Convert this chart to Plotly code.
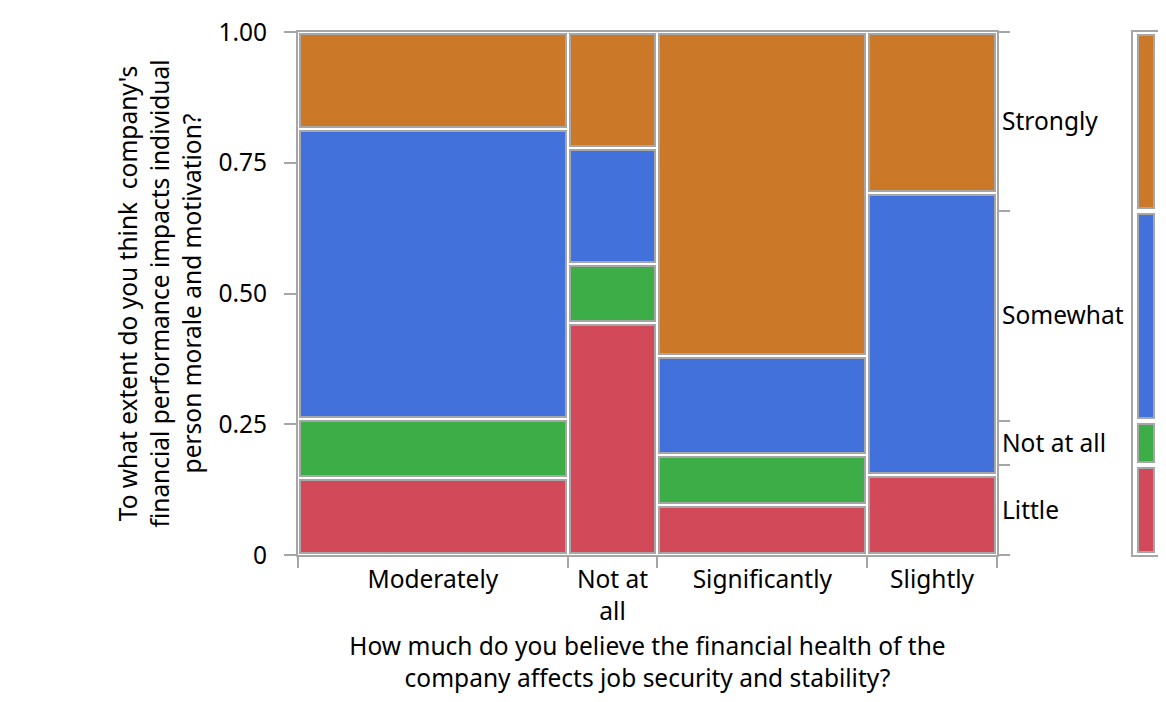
import plotly.graph_objects as go

# ---- data ----
x_categories = ["Moderately", "Not at all", "Significantly", "Slightly"]
x_ticklabels = ["Moderately", "Not at<br>all", "Significantly", "Slightly"]
y_categories = ["Little", "Not at all", "Somewhat", "Strongly"]  # bottom -> top
counts = {
    "Little":     [4, 4, 2, 2],
    "Not at all": [3, 1, 2, 0],
    "Somewhat":   [15, 2, 4, 7],
    "Strongly":   [5, 2, 13, 4],
}
colors = {
    "Little": "#D24A5A",
    "Not at all": "#3DAE47",
    "Somewhat": "#4371DC",
    "Strongly": "#CB7829",
}
y_ticks_left = [0, 0.25, 0.5, 0.75, 1.0]
y_ticktext_left = ["0", "0.25", "0.50", "0.75", "1.00"]
x_title = "How much do you believe the financial health of the<br>company affects job security and stability?"
y_title = "To what extent do you think \u00a0company's<br>financial performance impacts individual<br>person morale and motivation?"

# ---- layout geometry (page body has an 8px margin) ----
OFF = 8
W, H = 1166 - 2 * OFF, 702 - 2 * OFF
ml, mr, mt = 298 - OFF, 0, 32 - OFF
mb = H - mt - 523
plot_w = W - ml - mr
main_px = 699
dom_main = main_px / plot_w
dom_leg0 = (1133 - 298) / plot_w
plot_h = H - mt - mb

FONT = "Noto Sans, Open Sans, sans-serif"
GRAY = "#a6a6a6"
FS = 24.5

# ---- derived mosaic geometry ----
col_tot = [sum(counts[c][i] for c in y_categories) for i in range(len(x_categories))]
N = sum(col_tot)
col_w = [t / N for t in col_tot]
col_left = []
acc = 0
for w in col_w:
    col_left.append(acc)
    acc += w
col_center = [l + w / 2 for l, w in zip(col_left, col_w)]
col_bounds = col_left + [1.0]

padx = 2.0 / main_px
pady = 2.0 / plot_h

fig = go.Figure()

for i, xc in enumerate(x_categories):
    base = 0.0
    for yc in y_categories:
        h = counts[yc][i] / col_tot[i]
        if h > 0:
            fig.add_trace(go.Bar(
                x=[col_center[i]], y=[h - 2 * pady], base=[base + pady],
                width=[col_w[i] - 2 * padx],
                marker=dict(color=colors[yc], line=dict(color=GRAY, width=2)),
                xaxis="x", yaxis="y", showlegend=False,
                name=yc, hovertemplate=f"{xc} / {yc}: {counts[yc][i]}<extra></extra>",
            ))
        base += h

# marginal distribution
marg = [sum(counts[c]) / N for c in y_categories]
marg_bounds = [0]
for m in marg:
    marg_bounds.append(marg_bounds[-1] + m)
marg_mid = [(marg_bounds[k] + marg_bounds[k + 1]) / 2 for k in range(len(marg))]

leg_pady = 3.0 / plot_h
for k, yc in enumerate(y_categories):
    fig.add_trace(go.Bar(
        x=[0.52], y=[marg[k] - 2 * leg_pady], base=[marg_bounds[k] + leg_pady],
        width=[0.62],
        marker=dict(color=colors[yc], line=dict(color=GRAY, width=2)),
        xaxis="x2", yaxis="y5", showlegend=False, name=yc,
        hovertemplate=f"{yc}: {sum(counts[yc])}<extra></extra>",
    ))

axis_font = dict(family=FONT, size=FS, color="black")

fig.update_layout(
    width=W, height=H,
    margin=dict(l=ml, r=mr, t=mt, b=mb, autoexpand=False),
    paper_bgcolor="white", plot_bgcolor="rgba(0,0,0,0)",
    barmode="overlay", bargap=0,
    font=axis_font,
    xaxis=dict(
        domain=[0, dom_main], range=[0, 1], showgrid=False, zeroline=False,
        tickvals=col_center, ticktext=x_ticklabels, ticks="outside", ticklen=2,
        tickcolor="rgba(0,0,0,0)", showline=True, linecolor=GRAY, linewidth=2,
        mirror=True, tickfont=axis_font,
        title=dict(text=x_title, font=axis_font, standoff=12),
    ),
    xaxis3=dict(
        domain=[0, dom_main], range=[0, 1], overlaying="x", anchor="y",
        showgrid=False, zeroline=False, tickvals=col_bounds, ticks="outside",
        ticklen=12, tickwidth=2, tickcolor=GRAY, showticklabels=False,
        showline=False,
    ),
    yaxis=dict(
        range=[0, 1], showgrid=False, zeroline=False, tickvals=y_ticks_left,
        ticktext=y_ticktext_left, ticks="outside", ticklen=12, tickwidth=2,
        tickcolor=GRAY, showline=True, linecolor=GRAY, linewidth=2, mirror=True,
        tickfont=axis_font, anchor="x", ticklabelstandoff=12,
        title=dict(text=y_title, font=axis_font, standoff=10),
    ),
    yaxis2=dict(
        range=[0, 1], overlaying="y", side="right", anchor="x", showgrid=False,
        zeroline=False, tickvals=marg_bounds, ticks="outside", ticklen=12,
        tickwidth=2, tickcolor=GRAY, showticklabels=False, showline=False,
    ),
    yaxis4=dict(
        range=[0, 1], overlaying="y", side="right", anchor="x", showgrid=False,
        zeroline=False, tickvals=marg_mid, ticktext=y_categories, ticks="",
        showline=False, tickfont=axis_font, ticklabelstandoff=4,
    ),
    xaxis2=dict(
        domain=[dom_leg0, 1], range=[0, 1], anchor="y5", showgrid=False,
        zeroline=False, showticklabels=False, ticks="", showline=True,
        linecolor=GRAY, linewidth=2, mirror=True,
    ),
    yaxis5=dict(
        range=[0, 1], anchor="x2", showgrid=False, zeroline=False,
        showticklabels=False, ticks="", showline=True, linecolor=GRAY,
        linewidth=2, mirror=True,
    ),
)

# dummy traces so overlay axes render
fig.add_trace(go.Scatter(x=[None], y=[None], xaxis="x3", yaxis="y", showlegend=False, hoverinfo="skip"))
fig.add_trace(go.Scatter(x=[None], y=[None], xaxis="x", yaxis="y2", showlegend=False, hoverinfo="skip"))
fig.add_trace(go.Scatter(x=[None], y=[None], xaxis="x", yaxis="y4", showlegend=False, hoverinfo="skip"))

fig.write_html("out.html")
